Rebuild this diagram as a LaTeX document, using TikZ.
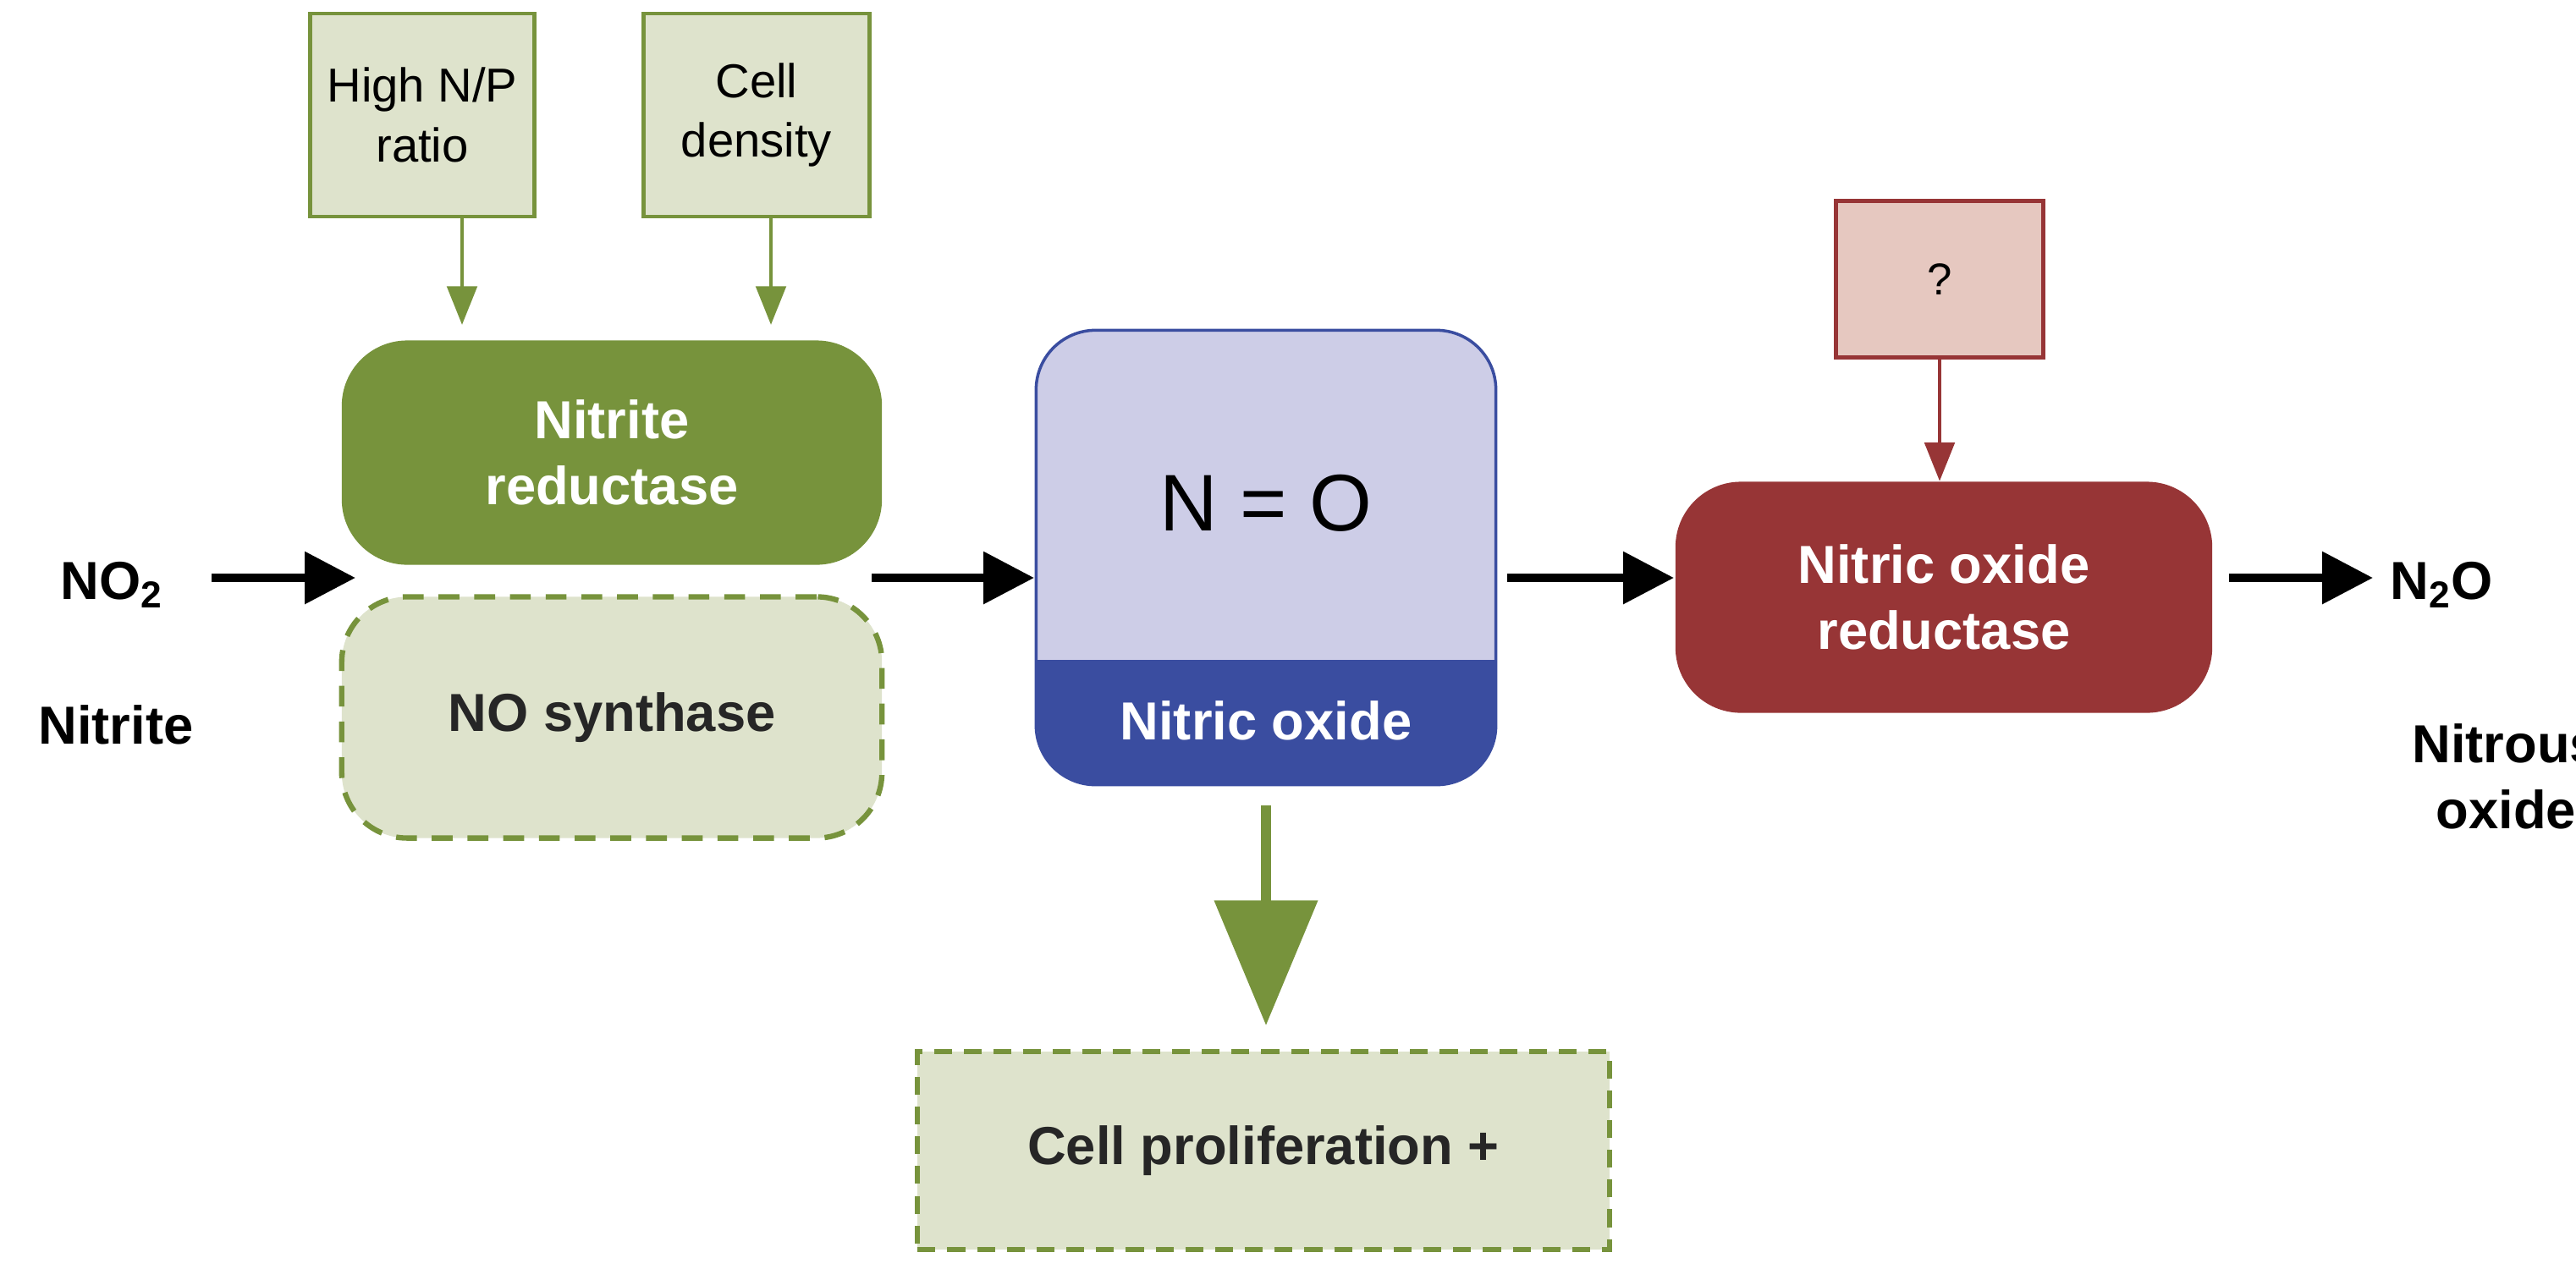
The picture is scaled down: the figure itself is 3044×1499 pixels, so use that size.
\documentclass[tikz,border=0pt]{standalone}
\usepackage{fontspec}
\setmainfont{Liberation Sans}
\usetikzlibrary{arrows.meta}
\definecolor{leaf}{HTML}{77933C}
\definecolor{pale}{HTML}{DEE3CC}
\definecolor{lilac}{HTML}{CDCDE7}
\definecolor{navy}{HTML}{3A4DA0}
\definecolor{brick}{HTML}{973536}
\definecolor{blush}{HTML}{E6C8C0}
\begin{document}
\begin{tikzpicture}[x=0.01cm,y=-0.01cm]
 \tikzset{cue/.style={draw=leaf, line width=1.2pt, fill=pale, font=\fontsize{16}{20}\selectfont, align=center, inner sep=0pt},
  enzyme/.style={rounded corners=22pt, text=white, font=\bfseries\fontsize{18}{22}\selectfont, align=center, inner sep=0pt},
  flow/.style={-{Triangle[length=17pt,width=17pt]}, line width=2.8pt},
  feed/.style={-{Triangle[length=13pt,width=10pt]}, line width=1.4pt},
  lbl/.style={font=\bfseries\fontsize{18}{22}\selectfont, align=center}}
  \useasboundingbox (0,0) rectangle (3044,1499);
  \node[cue, minimum width=2.65cm, minimum height=2.4cm] (HNP) at (499,136) {High N/P\\ratio};
  \node[cue, minimum width=2.67cm, minimum height=2.4cm] (CD) at (894,136) {Cell\\density};
  \node[enzyme, fill=leaf, minimum width=6.38cm, minimum height=2.65cm] (NiR) at (723,535) {Nitrite\\reductase};
  \node[enzyme, fill=pale, draw=leaf, dashed, dash pattern=on 7pt off 5pt, line width=1.8pt, text=black!85, minimum width=6.38cm, minimum height=2.85cm] (NOS) at (723,848) {NO synthase};
  \node[rounded corners=20pt, draw=navy, line width=1pt, fill=lilac, minimum width=5.43cm, minimum height=5.37cm] (NO) at (1496,659) {};
  \fill[navy] (1226,780) -- (1767,780) [rounded corners=19pt] -- (1767,926) -- (1226,926) [sharp corners] -- (1226,780);
  \node[font=\fontsize{27}{32}\selectfont] (NOf) at (1496,595) {N = O};
  \node[lbl, text=white] (NOn) at (1496,852) {Nitric oxide};
  \node[enzyme, fill=brick, minimum width=6.34cm, minimum height=2.73cm] (NOR) at (2297,706) {Nitric oxide\\reductase};
  \node[draw=brick, line width=1.2pt, fill=blush, minimum width=2.45cm, minimum height=1.85cm, font=\fontsize{15}{18}\selectfont] (Q) at (2292,330) {?};
  \node[lbl] (NO2) at (132,691) {NO\textsubscript{2}};
  \node[lbl] (Nit) at (137,857) {Nitrite};
  \node[lbl] (N2O) at (2885,691) {N\textsubscript{2}O};
  \node[lbl, anchor=west] (N2On) at (2838,918) {Nitrous\\oxide};
  \node[cue, dashed, dash pattern=on 6pt off 4pt, line width=1.8pt, font=\bfseries\fontsize{18}{22}\selectfont, text=black!85, minimum width=8.17cm, minimum height=2.34cm] (CP) at (1493,1360) {Cell proliferation +};
  \coordinate (a0) at (250,683);  \coordinate (a1) at (420,683);
  \coordinate (b0) at (1030,683); \coordinate (b1) at (1222,683);
  \coordinate (c0) at (1781,683); \coordinate (c1) at (1978,683);
  \coordinate (d0) at (2634,683); \coordinate (d1) at (2804,683);
  \coordinate (g0) at (1496,952); \coordinate (g1) at (1496,1212);
  \coordinate (h0) at (546,256);  \coordinate (h1) at (546,384);
  \coordinate (k0) at (911,256);  \coordinate (k1) at (911,384);
  \draw[feed, leaf] (h0) -- (h1);
  \draw[feed, leaf] (k0) -- (k1);
  \draw[feed, brick] (Q.south) -- (Q.south |- NOR.north);
  \draw[flow] (a0) -- (a1);
  \draw[flow] (b0) -- (b1);
  \draw[flow] (c0) -- (c1);
  \draw[flow] (d0) -- (d1);
  \draw[leaf, line width=3.6pt, -{Triangle[length=42pt,width=34pt]}] (g0) -- (g1);
\end{tikzpicture}
\end{document}
